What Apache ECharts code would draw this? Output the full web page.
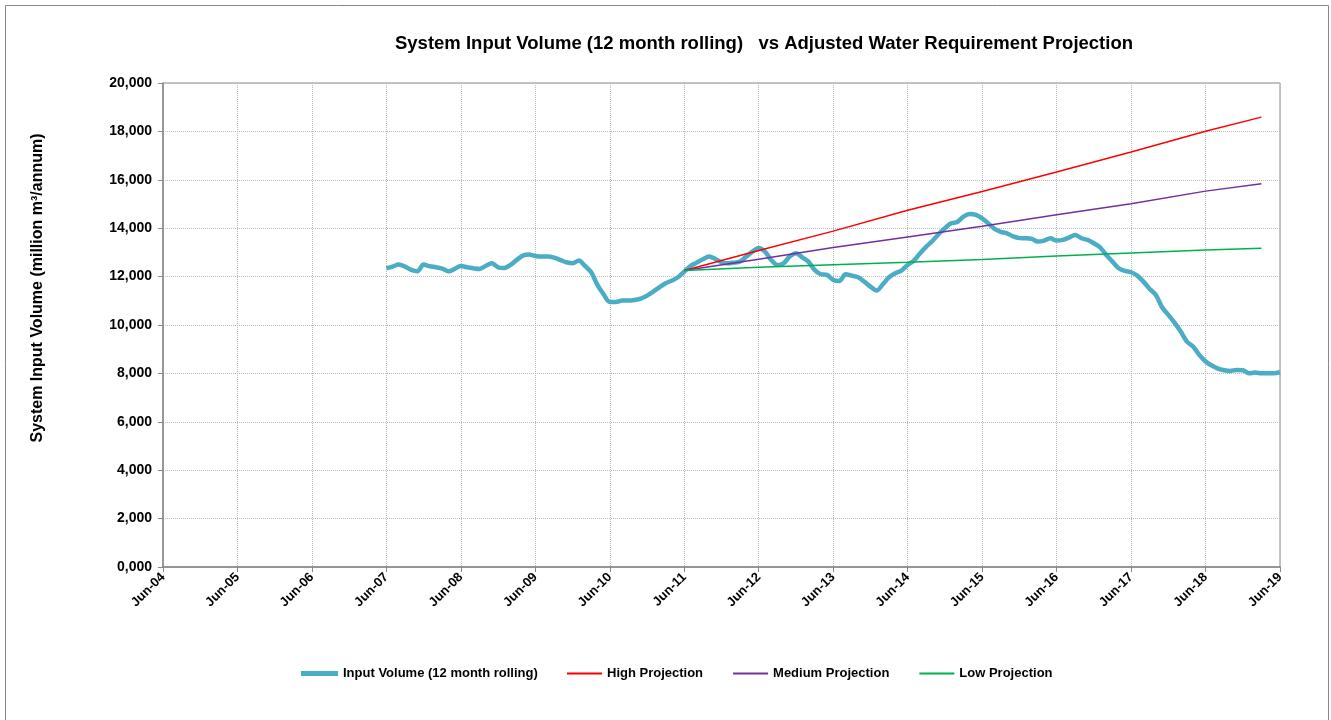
<!DOCTYPE html>
<html>
<head>
<meta charset="utf-8">
<title>System Input Volume vs Adjusted Water Requirement Projection</title>
<script src="https://cdn.jsdelivr.net/npm/echarts@6/dist/echarts.min.js"></script>
<style>
    html, body { margin: 0; padding: 0; background: #fff; }
    #main { width: 1331px; height: 720px; }
</style>
</head>
<body>
<div id="main"></div>
<script>
// x tick labels (one per year)
var xTicks = ['Jun-04', 'Jun-05', 'Jun-06', 'Jun-07', 'Jun-08', 'Jun-09', 'Jun-10', 'Jun-11',
    'Jun-12', 'Jun-13', 'Jun-14', 'Jun-15', 'Jun-16', 'Jun-17', 'Jun-18', 'Jun-19'];

// 12 month rolling input volume, monthly from Jun-07 to Jun-19
var inputStart = 'Jun-07';
var inputVolume = [
    12344, 12413, 12496, 12413, 12275, 12220, 12496,
    12427, 12385, 12330, 12220, 12317, 12440, 12385, 12344, 12317, 12440, 12550, 12385,
    12358, 12482, 12689, 12868, 12909, 12854, 12826, 12826, 12785, 12689, 12592, 12550,
    12661, 12440, 12179, 11656, 11270, 10953, 10953, 11008, 11008, 11036, 11091, 11215,
    11380, 11559, 11725, 11835, 11972, 12206, 12440, 12578, 12716, 12826, 12730, 12592,
    12551, 12578, 12620, 12826, 13033, 13184, 13033, 12689, 12482, 12551, 12826, 12964,
    12799, 12620, 12275, 12096, 12069, 11862, 11821, 12096, 12041, 11972, 11793, 11587,
    11422, 11683, 11972, 12138, 12248, 12482, 12661, 12964, 13239, 13473, 13760, 14000,
    14200, 14260, 14480, 14590, 14550, 14410, 14200, 13970, 13850, 13790, 13660, 13590,
    13584, 13556, 13446, 13487, 13584, 13487, 13515, 13611, 13721, 13584, 13515, 13377,
    13212, 12895, 12620, 12344, 12234, 12179, 12041, 11793, 11490, 11243, 10733, 10416,
    10100, 9728, 9315, 9108, 8764, 8489, 8323, 8199, 8131, 8103, 8144, 8131,
    8007, 8034, 8007, 8007, 8007, 8048
];

// projections
var projDates = ['Jun-11', 'Jun-12', 'Jun-13', 'Jun-14', 'Jun-15', 'Jun-16', 'Jun-17', 'Jun-18', 'Mar-19'];
var highProj = [12250, 13080, 13880, 14740, 15520, 16320, 17150, 18010, 18590];
var medProj = [12250, 12720, 13200, 13640, 14080, 14554, 15009, 15532, 15835];
var lowProj = [12250, 12390, 12490, 12590, 12710, 12850, 12980, 13100, 13170];

var monthNames = ['Jan', 'Feb', 'Mar', 'Apr', 'May', 'Jun', 'Jul', 'Aug', 'Sep', 'Oct', 'Nov', 'Dec'];

// months since Jun-04
function monthIndex(label) {
    var parts = label.split('-');
    var m = monthNames.indexOf(parts[0]);
    var y = 2000 + parseInt(parts[1], 10);
    return (y - 2004) * 12 + m - 5;
}

var start = monthIndex(inputStart);
var inputData = inputVolume.map(function (v, i) { return [start + i, v]; });
function projData(vals) {
    return vals.map(function (v, i) { return [monthIndex(projDates[i]), v]; });
}

var font = '"Liberation Sans", Arial, sans-serif';
var legendText = { fontSize: 13, fontWeight: 'bold', color: '#000', fontFamily: font };
var myChart = echarts.init(document.getElementById('main'));

var option = {
    animation: false,
    textStyle: { fontFamily: font },
    title: {
        text: 'System Input Volume (12 month rolling)   vs Adjusted Water Requirement Projection',
        left: 759,
        top: 29,
        textAlign: 'center',
        textStyle: { fontSize: 18.5, fontWeight: 'bold', color: '#000', fontFamily: font }
    },
    graphic: [
        {
            type: 'rect',
            shape: { x: 5.5, y: 5.5, width: 1323, height: 740 },
            style: { fill: 'none', stroke: '#888', lineWidth: 1 },
            silent: true
        },
        {
            type: 'text',
            x: 38,
            y: 288,
            rotation: Math.PI / 2,
            style: {
                text: 'System Input Volume (million m³/annum)',
                fontSize: 16,
                fontWeight: 'bold',
                fontFamily: font,
                fill: '#000',
                textAlign: 'center',
                textVerticalAlign: 'middle'
            }
        }
    ],
    legend: [
        {
            left: 296,
            top: 662,
            icon: 'rect',
            itemWidth: 37,
            itemHeight: 5,
            textStyle: legendText,
            data: ['Input Volume (12 month rolling)']
        },
        {
            left: 562,
            top: 662,
            icon: 'rect',
            itemWidth: 35,
            itemHeight: 2,
            itemGap: 30,
            textStyle: legendText,
            data: ['High Projection', 'Medium Projection', 'Low Projection']
        }
    ],
    grid: {
        left: 163,
        right: 51,
        top: 83,
        bottom: 153,
        show: true,
        borderColor: '#888',
        borderWidth: 1
    },
    xAxis: {
        type: 'value',
        min: 0,
        max: monthIndex(xTicks[xTicks.length - 1]),
        interval: 12,
        axisLine: { lineStyle: { color: '#888', width: 1.5 } },
        axisTick: { length: 5, lineStyle: { color: '#888' } },
        axisLabel: {
            rotate: 45,
            margin: 8,
            fontSize: 13,
            fontWeight: 'bold',
            color: '#000',
            formatter: function (v) { return xTicks[Math.round(v / 12)]; }
        },
        splitLine: { show: true, lineStyle: { color: '#bbb', type: 'dotted' } }
    },
    yAxis: {
        type: 'value',
        min: 0,
        max: 20000,
        interval: 2000,
        axisLine: { show: true, lineStyle: { color: '#888', width: 1.5 } },
        axisTick: { show: true, length: 5, lineStyle: { color: '#888' } },
        axisLabel: {
            margin: 11,
            fontSize: 14,
            fontWeight: 'bold',
            color: '#000',
            formatter: function (v) {
                return v === 0 ? '0,000' : v.toLocaleString('en-US');
            }
        },
        splitLine: { show: true, lineStyle: { color: '#bbb', type: 'dotted' } }
    },
    series: [
        {
            name: 'Input Volume (12 month rolling)',
            type: 'line',
            data: inputData,
            symbol: 'none',
            smooth: 0.3,
            z: 3,
            itemStyle: { color: '#4BACC6' },
            lineStyle: { color: '#4BACC6', width: 4.5 }
        },
        {
            name: 'High Projection',
            type: 'line',
            data: projData(highProj),
            symbol: 'none',
            itemStyle: { color: '#FF0000' },
            lineStyle: { color: '#FF0000', width: 1.5 }
        },
        {
            name: 'Medium Projection',
            type: 'line',
            data: projData(medProj),
            symbol: 'none',
            itemStyle: { color: '#7030A0' },
            lineStyle: { color: '#7030A0', width: 1.5 }
        },
        {
            name: 'Low Projection',
            type: 'line',
            data: projData(lowProj),
            symbol: 'none',
            itemStyle: { color: '#00B050' },
            lineStyle: { color: '#00B050', width: 1.5 }
        }
    ]
};

window.onresize = myChart.resize;
myChart.setOption(option);
</script>
</body>
</html>
